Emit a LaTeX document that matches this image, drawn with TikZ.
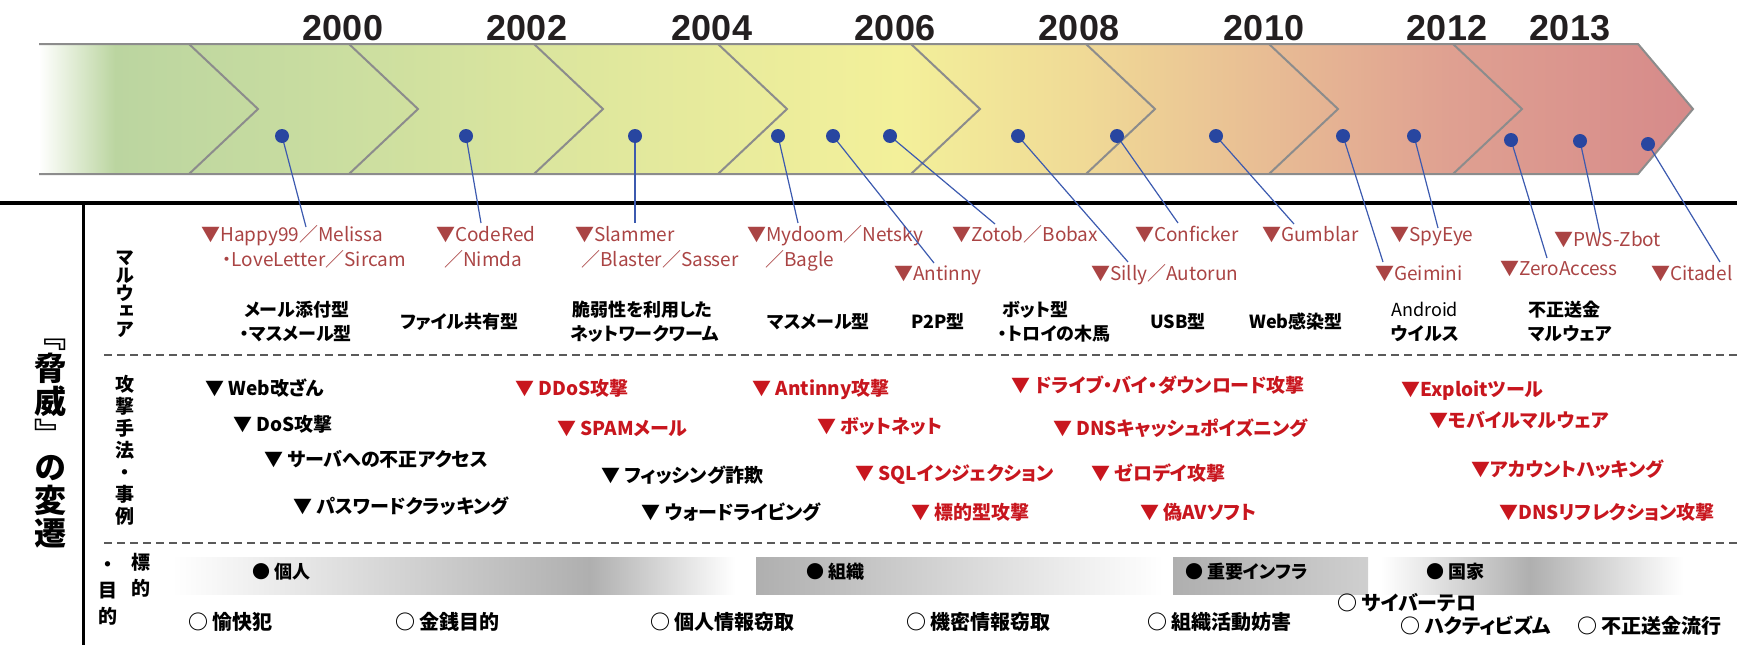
\documentclass[tikz,border=0pt]{standalone}
\usepackage{fontspec}
\setmainfont{Noto Sans CJK JP}[RawFeature=+palt]
\newfontfamily\vertfont{Noto Sans CJK JP}[RawFeature=+vert]
\newfontfamily\yearfont{Liberation Sans}
\usepackage{xcolor}
\usepackage{tikz}

\definecolor{bandA}{RGB}{187,213,160}
\definecolor{bandB}{RGB}{203,222,160}
\definecolor{bandC}{RGB}{218,229,158}
\definecolor{bandD}{RGB}{232,235,156}
\definecolor{bandE}{RGB}{243,240,154}
\definecolor{bandF}{RGB}{240,218,150}
\definecolor{bandG}{RGB}{232,188,148}
\definecolor{bandH}{RGB}{223,160,145}
\definecolor{bandI}{RGB}{214,138,138}
\definecolor{bandgray}{RGB}{140,140,140}
\definecolor{yeartext}{RGB}{35,31,32}
\definecolor{dotblue}{RGB}{40,70,160}
\definecolor{linkblue}{RGB}{60,90,175}
\definecolor{malred}{RGB}{170,68,68}
\definecolor{atkred}{RGB}{200,22,30}
\definecolor{sepgray}{RGB}{90,90,90}
\definecolor{bargray}{RGB}{175,175,175}

\pgfdeclarehorizontalshading{bandshade}{100bp}{color(0bp)=(white); color(25bp)=(white);
  color(27.3bp)=(bandA); color(34.4bp)=(bandB); color(39.8bp)=(bandC); color(45.6bp)=(bandD);
  color(51bp)=(bandE); color(56.5bp)=(bandF); color(62.2bp)=(bandG); color(67.7bp)=(bandH);
  color(75bp)=(bandI); color(100bp)=(bandI)}

\begin{document}
\begin{tikzpicture}[x=1pt,y=-1pt]
    \tikzstyle{year}=[inner sep=0pt, text=yeartext, font=\yearfont\bfseries\fontsize{36}{36}\selectfont]
    \tikzstyle{bandline}=[draw=bandgray, line width=2pt]
    \tikzstyle{hitdot}=[circle, fill=dotblue, minimum size=14pt, inner sep=0pt]
    \tikzstyle{link}=[draw=linkblue, line width=1.2pt]
    \tikzstyle{txt}=[anchor=west, inner sep=0pt, text height=0.88em, text depth=0.12em]
    \tikzstyle{mal}=[txt, text=malred, font=\fontsize{19}{19}\selectfont]
    \tikzstyle{kind}=[txt, font=\bfseries\fontsize{18}{18}\selectfont]
    \tikzstyle{atk}=[txt, font=\bfseries\fontsize{19}{19}\selectfont]
    \tikzstyle{new atk}=[atk, text=atkred]
    \tikzstyle{goal}=[txt, font=\bfseries\fontsize{18}{18}\selectfont]
    \tikzstyle{motive}=[txt, font=\bfseries\fontsize{20}{20}\selectfont]
    \tikzstyle{rowlab}=[inner sep=0pt, text height=0.88em, text depth=0.12em, font=\vertfont\bfseries\fontsize{19}{19}\selectfont]
    \tikzstyle{headline}=[inner sep=0pt, text height=0.88em, text depth=0.12em, font=\vertfont\bfseries\fontsize{32}{32}\selectfont]
    \tikzstyle{divider}=[draw=sepgray, line width=1.8pt, dash pattern=on 8pt off 5pt]

    \useasboundingbox (0,0) rectangle (1737,645);

    % Draw the time band with its chevrons
    \shade[shading=bandshade] (39,44) -- (1638,44) -- (1693,109) -- (1638,174) -- (39,174) -- cycle;
    \draw[bandline] (39,44) -- (1638,44) -- (1693,109) -- (1638,174) -- (39,174);
    \foreach \x in {189,349,534,718,911,1086,1269,1453}
        \draw[bandline] (\x,44) -- (\x+69,109) -- (\x,174);

    % Years above the band
    \foreach \yr / \x in {2000/343,2002/527,2004/712,2006/895,2008/1079,2010/1264,2012/1447,2013/1570}
        \node[year] (Y-\yr) at (\x,28) {\yr};

    % Frame lines
    \draw[line width=3.5pt] (0,203) -- (1737,203);
    \draw[line width=3pt] (83,203) -- (83,645);
    \draw[divider] (104,355) -- (1737,355);
    \draw[divider] (104,543) -- (1737,543);

    % Malware names
    \node[mal] (M-happy) at (201,238) {▼Happy99／Melissa};
    \node[mal] (M-happy2) at (222,263) {・LoveLetter／Sircam};
    \node[mal] (M-code) at (436,238) {▼CodeRed};
    \node[mal] (M-code2) at (444,263) {／Nimda};
    \node[mal] (M-slam) at (575,238) {▼Slammer};
    \node[mal] (M-slam2) at (581,263) {／Blaster／Sasser};
    \node[mal] (M-mydoom) at (747,238) {▼Mydoom／Netsky};
    \node[mal] (M-mydoom2) at (765,263) {／Bagle};
    \node[mal] (M-antinny) at (894,277) {▼Antinny};
    \node[mal] (M-zotob) at (952,238) {▼Zotob／Bobax};
    \node[mal] (M-silly) at (1091,277) {▼Silly／Autorun};
    \node[mal] (M-conf) at (1135,238) {▼Conficker};
    \node[mal] (M-gumb) at (1262,238) {▼Gumblar};
    \node[mal] (M-spy) at (1390,238) {▼SpyEye};
    \node[mal] (M-geim) at (1375,277) {▼Geimini};
    \node[mal] (M-zbot) at (1554,243) {▼PWS-Zbot};
    \node[mal] (M-zero) at (1500,272) {▼ZeroAccess};
    \node[mal] (M-cit) at (1651,277) {▼Citadel};

    % Dots on the band, each tied to its malware name
    \foreach \name / \x / \y / \ex / \ey in {happy/282/136/306/227, code/466/136/481/223,
        slam/635/136/635/223, mydoom/778/136/798/223, antinny/833/136/934/263,
        zotob/890/136/995/224, silly/1018/136/1128/262, conf/1117/136/1178/223,
        gumb/1216/136/1294/224, geim/1343/136/1383/262, spy/1414/136/1438/228,
        zero/1511/140/1547/258, zbot/1580/141/1600/233, cit/1648/144/1720/262}
    {
        \coordinate (E-\name) at (\ex,\ey);
        \draw[link] (\x,\y) coordinate (C-\name) -- (E-\name);
        \node[hitdot] (D-\name) at (C-\name) {};
    }

    % Malware types
    \node[kind] (K-mail) at (244,313) {メール添付型};
    \node[kind] (K-mail2) at (240,337) {・マスメール型};
    \node[kind] (K-share) at (400,325) {ファイル共有型};
    \node[kind] (K-worm) at (572,313) {脆弱性を利用した};
    \node[kind] (K-worm2) at (570,337) {ネットワークワーム};
    \node[kind] (K-mass) at (767,325) {マスメール型};
    \node[kind] (K-p2p) at (911,325) {P2P型};
    \node[kind] (K-bot) at (1002,313) {ボット型};
    \node[kind] (K-bot2) at (998,337) {・トロイの木馬};
    \node[kind] (K-usb) at (1150,325) {USB型};
    \node[kind] (K-web) at (1249,325) {Web感染型};
    \node[kind, font=\fontsize{18}{18}\selectfont] (K-andr) at (1391,313) {Android};
    \node[kind] (K-andr2) at (1391,337) {ウイルス};
    \node[kind] (K-bank) at (1528,313) {不正送金};
    \node[kind] (K-bank2) at (1528,337) {マルウェア};

    % Attack methods
    \node[atk] (A-web) at (205,392) {▼ Web改ざん};
    \node[atk] (A-dos) at (233,428) {▼ DoS攻撃};
    \node[atk] (A-srv) at (264,463) {▼ サーバへの不正アクセス};
    \node[atk] (A-pw) at (293,510) {▼ パスワードクラッキング};
    \node[atk] (A-phish) at (601,479) {▼ フィッシング詐欺};
    \node[atk] (A-war) at (641,516) {▼ ウォードライビング};
    \node[new atk] (A-ddos) at (515,392) {▼ DDoS攻撃};
    \node[new atk] (A-spam) at (557,432) {▼ SPAMメール};
    \node[new atk] (A-antinny) at (752,392) {▼ Antinny攻撃};
    \node[new atk] (A-botnet) at (817,430) {▼ ボットネット};
    \node[new atk] (A-sql) at (855,477) {▼ SQLインジェクション};
    \node[new atk] (A-apt) at (911,516) {▼ 標的型攻撃};
    \node[new atk] (A-dbd) at (1011,389) {▼ ドライブ・バイ・ダウンロード攻撃};
    \node[new atk] (A-dns) at (1053,432) {▼ DNSキャッシュポイズニング};
    \node[new atk] (A-zero) at (1091,477) {▼ ゼロデイ攻撃};
    \node[new atk] (A-fakeav) at (1140,516) {▼ 偽AVソフト};
    \node[new atk] (A-exploit) at (1401,393) {▼Exploitツール};
    \node[new atk] (A-mobile) at (1429,424) {▼モバイルマルウェア};
    \node[new atk] (A-account) at (1471,473) {▼アカウントハッキング};
    \node[new atk] (A-refl) at (1499,516) {▼DNSリフレクション攻撃};

    % Target bars
    \shade[left color=white, right color=bargray] (172,557) rectangle (590,594);
    \shade[left color=bargray, right color=white] (590,557) rectangle (735,594);
    \shade[left color=bargray, right color=white] (756,557) rectangle (1163,594);
    \shade[left color=bargray, right color=bargray!60] (1173,557) rectangle (1368,594);
    \shade[left color=white, right color=bargray] (1381,557) rectangle (1530,594);
    \shade[left color=bargray, right color=white] (1530,557) rectangle (1683,594);

    \node[goal] (G-person) at (252,575) {● 個人};
    \node[goal] (G-org) at (806,575) {● 組織};
    \node[goal] (G-infra) at (1185,575) {● 重要インフラ};
    \node[goal] (G-state) at (1426,575) {● 国家};

    % Motives
    \node[motive] (P-fun) at (188,626) {○ 愉快犯};
    \node[motive] (P-money) at (395,626) {○ 金銭目的};
    \node[motive] (P-pii) at (650,626) {○ 個人情報窃取};
    \node[motive] (P-secret) at (906,626) {○ 機密情報窃取};
    \node[motive] (P-disrupt) at (1147,626) {○ 組織活動妨害};
    \node[motive] (P-terror) at (1337,607) {○ サイバーテロ};
    \node[motive] (P-hack) at (1400,630) {○ ハクティビズム};
    \node[motive] (P-fraud) at (1577,630) {○ 不正送金流行};

    % Row headings, set vertically
    \foreach \c [count=\i] in {マ,ル,ウ,ェ,ア}
        \node[rowlab] (R1-\i) at (125,243+\i*18) {\c};
    \foreach \c [count=\i] in {攻,撃,手,法,・,事,例}
        \node[rowlab] (R2-\i) at (125,366+\i*22) {\c};
    \foreach \c / \x / \y [count=\i] in {標/141/566,的/141/592,・/108/568,目/108/594,的/108/620}
        \node[rowlab] (R3-\i) at (\x,\y) {\c};

    % Main heading
    \foreach \c [count=\i] in {﹃,脅,威,﹄,の,変,遷}
        \node[headline] (T-\i) at (50,311+\i*33) {\c};
\end{tikzpicture}
\end{document}
